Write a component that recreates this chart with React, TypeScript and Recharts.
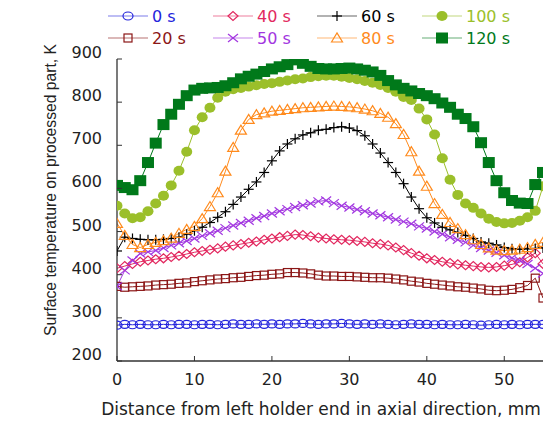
import React from 'react';
import { LineChart, Line, XAxis, YAxis } from 'recharts';

// distance from left holder end, mm
const distance = [
  0, 1, 2, 3, 4, 5, 6, 7, 8, 9, 10, 11, 12, 13, 14, 15, 16, 17, 18, 19, 20, 21, 22, 23, 24, 25, 26, 27,
  28, 29, 30, 31, 32, 33, 34, 35, 36, 37, 38, 39, 40, 41, 42, 43, 44, 45, 46, 47, 48, 49, 50, 51, 52, 53, 54, 55,
];

// surface temperature, K
const t0 = [
  283, 285, 284, 285, 284, 284, 285, 284, 285, 285, 284, 285, 285, 284, 285, 286, 285, 285, 286, 285, 286, 285, 286, 286, 287, 286, 285, 286,
  286, 287, 286, 285, 286, 285, 286, 285, 284, 285, 286, 285, 285, 284, 285, 284, 284, 285, 284, 283, 284, 285, 284, 285, 284, 285, 285, 285,
];
const t20 = [
  373, 371, 372, 373, 374, 376, 377, 378, 380, 381, 384, 386, 388, 390, 391, 393, 394, 396, 398, 399, 401, 402, 405, 405, 404, 402, 399, 397,
  397, 396, 396, 395, 394, 393, 393, 392, 390, 388, 385, 383, 380, 378, 376, 374, 372, 371, 369, 367, 364, 363, 364, 366, 370, 375, 392, 346,
];
const t40 = [
  415, 420, 425, 430, 433, 436, 438, 441, 444, 448, 452, 455, 458, 461, 465, 468, 471, 474, 477, 481, 484, 487, 490, 493, 492, 489, 486, 484,
  482, 481, 480, 478, 476, 473, 471, 468, 463, 457, 450, 444, 438, 434, 430, 427, 424, 422, 420, 418, 417, 418, 421, 424, 429, 440, 450, 425,
];
const t50 = [
  373, 410, 433, 449, 453, 456, 462, 468, 473, 478, 484, 490, 496, 502, 508, 514, 520, 525, 531, 536, 542, 547, 552, 557, 561, 565, 570, 572,
  566, 560, 556, 551, 547, 542, 538, 533, 528, 523, 518, 512, 507, 500, 494, 487, 481, 475, 468, 462, 456, 451, 445, 439, 433, 425, 415, 403,
];
const t60 = [
  455, 487, 484, 482, 481, 481, 482, 484, 487, 494, 502, 510, 521, 533, 546, 563, 580, 598, 615, 637, 664, 687, 703, 715, 724, 729, 735, 737,
  741, 743, 740, 734, 722, 703, 682, 660, 637, 611, 580, 553, 532, 520, 510, 504, 498, 491, 484, 476, 473, 469, 463, 460, 459, 460, 461, 462,
];
const t80 = [
  519, 491, 470, 463, 470, 475, 479, 485, 496, 505, 512, 530, 558, 590, 640, 695, 735, 760, 771, 775, 779, 781, 783, 785, 787, 788, 789, 790,
  791, 790, 789, 787, 784, 780, 774, 765, 750, 725, 685, 640, 605, 565, 540, 521, 507, 493, 481, 470, 462, 457, 456, 457, 459, 463, 470, 475,
];
const t100 = [
  560, 542, 531, 533, 547, 565, 583, 607, 641, 685, 735, 765, 787, 810, 824, 830, 833, 836, 839, 842, 844, 847, 850, 853, 855, 858, 860, 861,
  861, 859, 856, 853, 849, 845, 840, 833, 824, 812, 805, 785, 760, 725, 670, 620, 585, 565, 555, 542, 530, 522, 519, 520, 525, 533, 548, 605,
];
const t120 = [
  607, 602, 597, 618, 660, 705, 748, 772, 795, 815, 828, 832, 833, 834, 838, 845, 854, 860, 865, 871, 877, 882, 887, 898, 890, 883, 878, 877,
  877, 878, 879, 877, 874, 870, 862, 850, 840, 832, 826, 820, 815, 808, 798, 788, 772, 762, 743, 706, 660, 618, 590, 572, 566, 565, 609, 637,
];

const xTicks = [0, 10, 20, 30, 40, 50];
const yTicks = [200, 300, 400, 500, 600, 700, 800, 900];

const series = [
  { key: 's0', name: '0 s', values: t0, color: '#2424dc', marker: 'circle' },
  { key: 's20', name: '20 s', values: t20, color: '#8b1616', marker: 'square' },
  { key: 's40', name: '40 s', values: t40, color: '#e2285f', marker: 'diamond' },
  { key: 's50', name: '50 s', values: t50, color: '#a236e0', marker: 'cross' },
  { key: 's60', name: '60 s', values: t60, color: '#000000', marker: 'plus' },
  { key: 's80', name: '80 s', values: t80, color: '#ff8a1c', marker: 'triangle' },
  { key: 's100', name: '100 s', values: t100, color: '#9bbf2a', marker: 'dot' },
  { key: 's120', name: '120 s', values: t120, color: '#00791a', marker: 'block' },
];

const legendRows = [
  ['s0', 's40', 's60', 's100'],
  ['s20', 's50', 's80', 's120'],
];
const legendCols = [108, 213, 317, 422];
const legendY = [16, 38];

const rows = distance.map((d, i) => {
  const r: any = { x: d };
  series.forEach(s => { r[s.key] = s.values[i]; });
  return r;
});

const FONT = '"DejaVu Sans", sans-serif';
const FRAME = '#333';

function Marker({ kind, cx, cy, color }: any) {
  switch (kind) {
    case 'circle':
      return <ellipse cx={cx} cy={cy} rx={5} ry={4} fill="none" stroke={color} strokeWidth={1.2} />;
    case 'square':
      return <rect x={cx - 4} y={cy - 4} width={8} height={8} fill="none" stroke={color} strokeWidth={1.2} />;
    case 'diamond':
      return <polygon points={`${cx - 5},${cy} ${cx},${cy - 4.5} ${cx + 5},${cy} ${cx},${cy + 4.5}`} fill="none" stroke={color} strokeWidth={1.2} />;
    case 'cross':
      return (
        <g stroke={color} strokeWidth={1.2}>
          <line x1={cx - 5} y1={cy - 4} x2={cx + 5} y2={cy + 4} />
          <line x1={cx - 5} y1={cy + 4} x2={cx + 5} y2={cy - 4} />
        </g>
      );
    case 'plus':
      return (
        <g stroke={color} strokeWidth={1.2}>
          <line x1={cx - 5} y1={cy} x2={cx + 5} y2={cy} />
          <line x1={cx} y1={cy - 5} x2={cx} y2={cy + 5} />
        </g>
      );
    case 'triangle':
      return <polygon points={`${cx - 5.5},${cy + 4} ${cx},${cy - 5} ${cx + 5.5},${cy + 4}`} fill="none" stroke={color} strokeWidth={1.2} />;
    case 'dot':
      return <ellipse cx={cx} cy={cy} rx={5.5} ry={5} fill={color} />;
    case 'block':
      return <rect x={cx - 6} y={cy - 5.5} width={12} height={11} fill={color} />;
    default:
      return null;
  }
}

const BottomTick = ({ x, y, payload }: any) => (
  <g>
    <line x1={x} y1={y} x2={x} y2={y - 5} stroke={FRAME} />
    <text x={x} y={y + 24} textAnchor="middle" fontSize={16} fontFamily={FONT} fill="#222">{payload.value}</text>
  </g>
);
const TopTick = ({ x, y }: any) => <line x1={x} y1={y} x2={x} y2={y + 5} stroke={FRAME} />;
const LeftTick = ({ x, y, payload }: any) => (
  <g>
    <line x1={x} y1={y} x2={x + 5} y2={y} stroke={FRAME} />
    <text x={x - 15} y={y - 1} textAnchor="end" fontSize={16} fontFamily={FONT} fill="#222">{payload.value}</text>
  </g>
);
const RightTick = ({ x, y }: any) => <line x1={x} y1={y} x2={x - 5} y2={y} stroke={FRAME} />;

const Legend = () => (
  <svg width={546} height={50} style={{ position: 'absolute', left: 0, top: 0 }}>
    {legendRows.map((row, ri) =>
      row.map((key, ci) => {
        const s = series.find(v => v.key === key)!;
        const x0 = legendCols[ci];
        const y0 = legendY[ri];
        return (
          <g key={key}>
            <line x1={x0} y1={y0} x2={x0 + 40} y2={y0} stroke={s.color} strokeOpacity={0.6} strokeWidth={1.2} />
            <Marker kind={s.marker} cx={x0 + 20} cy={y0} color={s.color} />
            <text x={x0 + 44} y={y0 + 6} fontSize={16} fontFamily={FONT} fill={s.color}>{s.name}</text>
          </g>
        );
      })
    )}
  </svg>
);

export default function App() {
  return (
    <div style={{ position: 'absolute', left: 0, top: 0, width: 546, height: 421, background: '#fff' }}>
      <LineChart width={546} height={421} data={rows} margin={{ top: 59, right: 3, bottom: 0, left: 0 }}>
        <XAxis
          dataKey="x" type="number" domain={[0, 55]} ticks={xTicks} allowDataOverflow interval={0}
          height={60} tickSize={0} tickMargin={0} tickLine={false} tick={BottomTick}
          axisLine={{ stroke: FRAME, strokeWidth: 1.3 }}
          label={() => (
            <text x={321} y={415} textAnchor="middle" fontSize={17} fontFamily={FONT} fill="#222">
              Distance from left holder end in axial direction, mm
            </text>
          )}
        />
        <XAxis
          xAxisId="top" orientation="top" dataKey="x" type="number" domain={[0, 55]} ticks={xTicks} allowDataOverflow interval={0}
          height={0} tickSize={0} tickMargin={0} tickLine={false} tick={TopTick}
          axisLine={{ stroke: FRAME, strokeWidth: 1.3 }}
        />
        <YAxis
          type="number" domain={[200, 900]} ticks={yTicks} allowDataOverflow interval={0}
          width={117} tickSize={0} tickMargin={0} tickLine={false} tick={LeftTick}
          axisLine={{ stroke: FRAME, strokeWidth: 1.3 }}
          label={() => (
            <text
              x={50} y={190} transform="rotate(-90 50 190)" textAnchor="middle" dominantBaseline="central"
              fontSize={17} textLength={292} lengthAdjust="spacingAndGlyphs"
              fontFamily='"Liberation Sans", Arial, sans-serif' fill="#222"
            >
              Surface temperature on processed part,  K
            </text>
          )}
        />
        <YAxis
          yAxisId="right" orientation="right" type="number" domain={[200, 900]} ticks={yTicks} allowDataOverflow interval={0}
          width={0} tickSize={0} tickMargin={0} tickLine={false} tick={RightTick}
          axisLine={{ stroke: '#666', strokeWidth: 2 }}
        />
        {series.map(s => (
          <Line
            key={s.key}
            dataKey={s.key}
            name={s.name}
            stroke={s.color}
            strokeWidth={1}
            isAnimationActive={false}
            dot={(p: any) => <Marker key={`${s.key}-${p.index}`} kind={s.marker} cx={p.cx} cy={p.cy} color={s.color} />}
            activeDot={false}
          />
        ))}
      </LineChart>
      <Legend />
    </div>
  );
}
